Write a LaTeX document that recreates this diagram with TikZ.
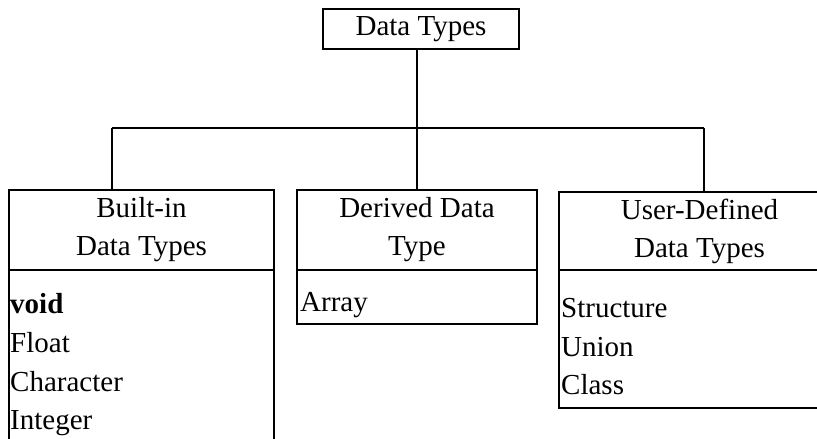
\documentclass[tikz,border=0pt]{standalone}
\usepackage{fontspec}
\setmainfont{Liberation Serif}
\begin{document}
\begin{tikzpicture}[x=1pt,y=-1pt,
  box/.style={draw, line width=1.6pt, inner sep=0pt, align=center, font=\fontsize{29}{38}\selectfont},
  item/.style={anchor=base west, inner sep=0pt, font=\fontsize{29}{35}\selectfont},
  link/.style={line width=1.6pt}]
\useasboundingbox (0,0) rectangle (817,439);
\clip (0,0) rectangle (817,439);
% top
\node[box, minimum width=196pt, minimum height=40pt] (top) at (421,29) {Data Types};
% built-in
\node[box, minimum width=265pt, minimum height=80pt] (bih) at (141.5,230) {Built-in\\Data Types};
\node[box, minimum width=265pt, minimum height=190pt] (bib) at (141.5,365) {};
\node[item] (i1) at (10,313) {\textbf{void}};
\node[item] (i2) at (10,352) {Float};
\node[item] (i3) at (10,391) {Character};
\node[item] (i4) at (10,429) {Integer};
% derived
\node[box, minimum width=240pt, minimum height=80pt] (dh) at (417,230) {Derived Data\\Type};
\node[box, minimum width=240pt, minimum height=54pt] (db) at (417,297) {};
\node[item] (d1) at (300,311) {Array};
% user-defined
\node[box, minimum width=281pt, minimum height=78pt] (uh) at (699.5,231) {User-Defined\\Data Types};
\node[box, minimum width=281pt, minimum height=138pt] (ub) at (699.5,339) {};
\node[item] (u1) at (561,317) {Structure};
\node[item] (u2) at (561,356) {Union};
\node[item] (u3) at (561,394) {Class};
% connectors
\coordinate (jl) at (112,128);
\coordinate (jm) at (417,128);
\coordinate (jr) at (704,128);
\draw[link] (jl) -- (jr);
\draw[link] (jm |- top.south) -- (jm);
\draw[link] (jl) -- (jl |- bih.north);
\draw[link] (jm) -- (dh.north);
\draw[link] (jr) -- (jr |- uh.north);
\end{tikzpicture}
\end{document}
